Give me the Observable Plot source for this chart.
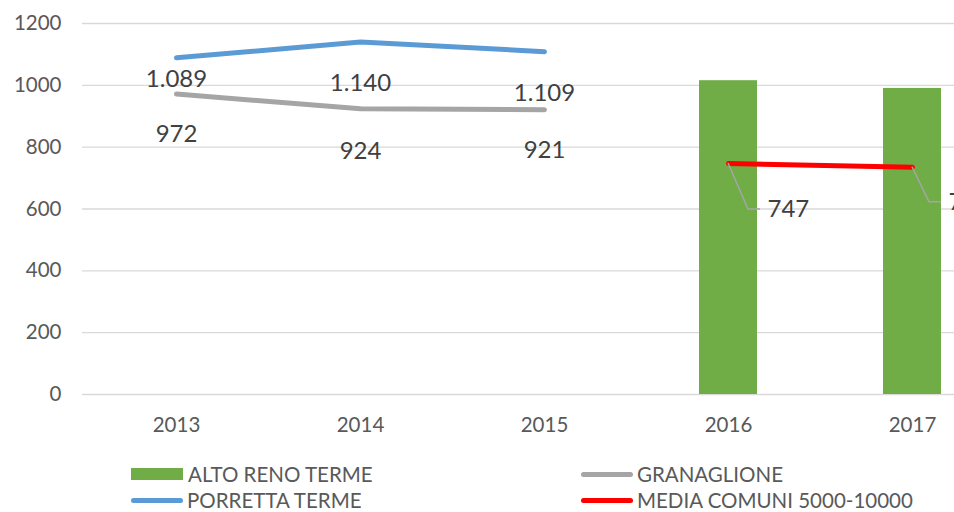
<!DOCTYPE html>
<html><head><meta charset="utf-8">
<script src="https://cdn.jsdelivr.net/npm/d3@7"></script>
<script src="https://cdn.jsdelivr.net/npm/@observablehq/plot@0.6"></script>
<style>
html,body{margin:0;padding:0;background:#fff;overflow:hidden;width:954px;height:512px}
#chart{position:relative;width:954px;height:512px;overflow:hidden;font-family:Lato,sans-serif}
#chart svg{display:block;overflow:hidden}
.leg{position:absolute;display:flex;align-items:center;font-size:20.5px;color:#595959;white-space:nowrap;line-height:1}
.sw-rect{width:52px;height:12px;margin-right:5px}
.sw-line{width:52px;height:5px;border-radius:3px;margin-right:4px}
</style></head>
<body><div id="chart"></div>
<script>
const years = ["2013","2014","2015","2016","2017"];
const altoReno = [null, null, null, 1015, 990];
const granaglione = [972, 924, 921, null, null];
const porretta = [1089, 1140, 1109, null, null];
const media = [null, null, null, 747, 735];
const yTicks = [0, 200, 400, 600, 800, 1000, 1200];
const seriesNames = ["ALTO RENO TERME", "GRANAGLIONE", "PORRETTA TERME", "MEDIA COMUNI 5000-10000"];
const colors = ["#70ad47", "#a5a5a5", "#5b9bd5", "#ff0000"];

// label layout (pixel offsets, styling only)
const porrettaDy = [21, 41, 42];
const granaglioneDy = [40, 42, 41];
const mediaDy = [46, 35];
const mediaDx = [39, 36];

const itFmt = d3.formatLocale({decimal: ",", thousands: ".", grouping: [3], currency: ["", "€"]}).format(",");
const toRows = vals => years.map((year, i) => ({year, value: vals[i]})).filter(d => d.value != null);

const barRows = toRows(altoReno);
const grRows = toRows(granaglione);
const poRows = toRows(porretta);
const meRows = toRows(media);

const labelMarks = (rows, dys, dxs, opts) => rows.map((d, i) =>
  Plot.text([d], {x: "year", y: "value", text: d => itFmt(d.value), dy: dys[i], dx: dxs ? dxs[i] : 0, fontSize: 24, fill: "#404040", ...opts}));

const plot = Plot.plot({
  width: 954,
  height: 450,
  marginTop: 23,
  marginBottom: 56,
  marginLeft: 82,
  marginRight: 0,
  style: {fontFamily: "Lato, sans-serif", background: "#fff", overflow: "hidden"},
  x: {type: "band", domain: years, range: [82, 1005], padding: 0},
  y: {domain: [0, 1200], range: [394, 23]},
  marks: [
    Plot.ruleY(yTicks, {stroke: "#d9d9d9", strokeWidth: 1.3}),
    Plot.axisY({ticks: yTicks, tickSize: 0, tickPadding: 21, fontSize: 20.5, color: "#595959", tickFormat: d => String(d), label: null}),
    Plot.axisX({tickSize: 0, tickPadding: 23, fontSize: 20.5, color: "#595959", label: null}),
    Plot.barY(barRows, {x: "year", y: "value", fill: colors[0], insetLeft: 63, insetRight: 63}),
    Plot.line(grRows, {x: "year", y: "value", stroke: colors[1], strokeWidth: 5, strokeLinecap: "round", strokeLinejoin: "round"}),
    Plot.line(poRows, {x: "year", y: "value", stroke: colors[2], strokeWidth: 5, strokeLinecap: "round", strokeLinejoin: "round"}),
    Plot.line(meRows, {x: "year", y: "value", stroke: colors[3], strokeWidth: 5, strokeLinecap: "round", strokeLinejoin: "round"}),
    ...labelMarks(poRows, porrettaDy, null, {}),
    ...labelMarks(grRows, granaglioneDy, null, {}),
    ...labelMarks(meRows, mediaDy, mediaDx, {textAnchor: "start"})
  ]
});

// leader lines for MEDIA labels, positioned via the plot's scales
const xs = plot.scale("x"), ys = plot.scale("y");
const svg = d3.select(plot);
meRows.forEach((d, i) => {
  const px = xs.apply(d.year) + xs.bandwidth / 2;
  const py = ys.apply(d.value);
  const ly = py + mediaDy[i];
  svg.append("path")
    .attr("d", `M${px},${py}L${px + mediaDx[i] - 19},${ly}L${px + mediaDx[i] - 7},${ly}`)
    .attr("fill", "none").attr("stroke", "#a5a5a5").attr("stroke-width", 1.5);
});

const chart = document.getElementById("chart");
chart.appendChild(plot);

const legendItems = [
  {name: seriesNames[0], color: colors[0], type: "rect", left: 131, top: 474},
  {name: seriesNames[1], color: colors[1], type: "line", left: 581, top: 474},
  {name: seriesNames[2], color: colors[2], type: "line", left: 131, top: 500},
  {name: seriesNames[3], color: colors[3], type: "line", left: 581, top: 500}
];
legendItems.forEach(it => {
  const el = document.createElement("div");
  el.className = "leg";
  el.style.left = it.left + "px";
  el.style.top = (it.top - 10) + "px";
  el.style.height = "20px";
  const sw = document.createElement("span");
  sw.className = it.type === "rect" ? "sw-rect" : "sw-line";
  sw.style.background = it.color;
  el.appendChild(sw);
  const t = document.createElement("span");
  t.textContent = it.name;
  el.appendChild(t);
  chart.appendChild(el);
});
</script>
</body></html>
